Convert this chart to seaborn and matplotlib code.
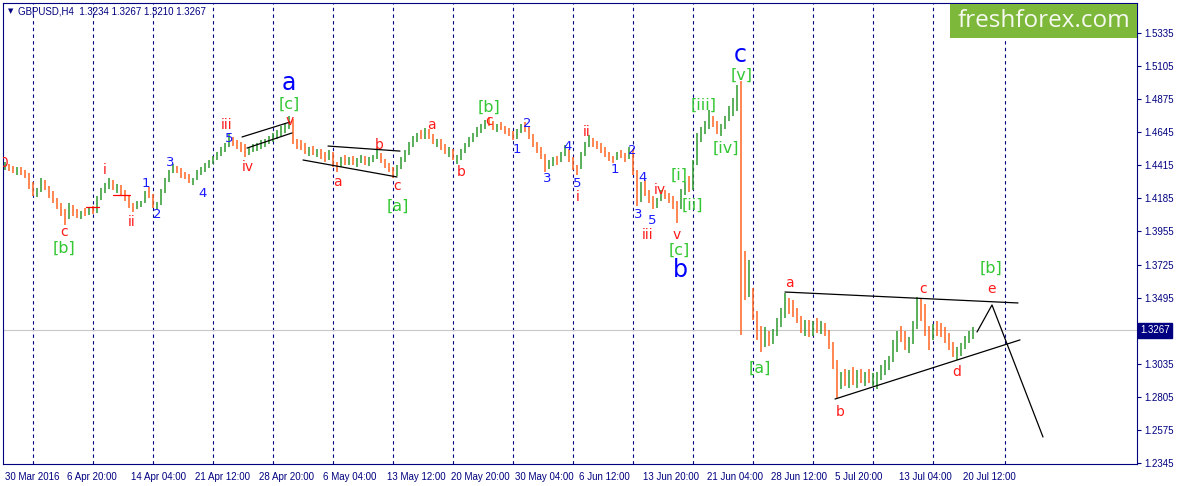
import numpy as np
import matplotlib.pyplot as plt
import seaborn as sns
from matplotlib.collections import LineCollection
from matplotlib.patches import Rectangle

# GBPUSD H4, 30 Mar - 21 Jul 2016. One drawn bar = two H4 bars, x counted in H4 bars.
first_open = 1.4400
high = [
    1.4440, 1.4425, 1.4410, 1.4400, 1.4405, 1.4380, 1.4360, 1.4300, 1.4260, 1.4325,
    1.4310, 1.4270, 1.4235, 1.4185, 1.4150, 1.4110, 1.4150, 1.4140, 1.4110, 1.4100,
    1.4120, 1.4120, 1.4130, 1.4200, 1.4260, 1.4290, 1.4325, 1.4310, 1.4285, 1.4280,
    1.4245, 1.4200, 1.4150, 1.4165, 1.4170, 1.4235, 1.4265, 1.4215, 1.4160, 1.4250,
    1.4330, 1.4385, 1.4425, 1.4410, 1.4395, 1.4370, 1.4355, 1.4330, 1.4380, 1.4400,
    1.4430, 1.4450, 1.4480, 1.4510, 1.4540, 1.4570, 1.4640, 1.4615, 1.4590, 1.4580,
    1.4560, 1.4545, 1.4560, 1.4570, 1.4590, 1.4600, 1.4620, 1.4640, 1.4660, 1.4685,
    1.4710, 1.4760, 1.4735, 1.4600, 1.4590, 1.4570, 1.4545, 1.4550, 1.4530, 1.4525,
    1.4505, 1.4520, 1.4510, 1.4440, 1.4470, 1.4485, 1.4470, 1.4480, 1.4465, 1.4490,
    1.4480, 1.4470, 1.4490, 1.4535, 1.4500, 1.4460, 1.4430, 1.4400, 1.4420, 1.4470,
    1.4520, 1.4580, 1.4620, 1.4640, 1.4660, 1.4675, 1.4665, 1.4630, 1.4600, 1.4595,
    1.4560, 1.4540, 1.4530, 1.4490, 1.4530, 1.4570, 1.4610, 1.4640, 1.4680, 1.4700,
    1.4730, 1.4750, 1.4725, 1.4705, 1.4715, 1.4690, 1.4675, 1.4655, 1.4665, 1.4700,
    1.4715, 1.4680, 1.4630, 1.4575, 1.4540, 1.4495, 1.4450, 1.4470, 1.4480, 1.4505,
    1.4555, 1.4530, 1.4470, 1.4420, 1.4510, 1.4580, 1.4625, 1.4605, 1.4585, 1.4570,
    1.4540, 1.4510, 1.4480, 1.4505, 1.4520, 1.4500, 1.4545, 1.4530, 1.4380, 1.4300,
    1.4310, 1.4240, 1.4200, 1.4190, 1.4240, 1.4245, 1.4225, 1.4200, 1.4170, 1.4250,
    1.4300, 1.4340, 1.4450, 1.4640, 1.4680, 1.4720, 1.4800, 1.4760, 1.4720, 1.4700,
    1.4760, 1.4830, 1.4880, 1.4970, 1.5000, 1.3820, 1.3760, 1.3560, 1.3400, 1.3300,
    1.3290, 1.3260, 1.3280, 1.3350, 1.3420, 1.3530, 1.3490, 1.3480, 1.3420, 1.3370,
    1.3340, 1.3340, 1.3330, 1.3350, 1.3330, 1.3320, 1.3270, 1.3190, 1.3060, 1.2980,
    1.3000, 1.2990, 1.3010, 1.2990, 1.3000, 1.2980, 1.3000, 1.2970, 1.2980, 1.3030,
    1.3060, 1.3090, 1.3200, 1.3260, 1.3300, 1.3260, 1.3220, 1.3330, 1.3500, 1.3490,
    1.3450, 1.3300, 1.3310, 1.3330, 1.3320, 1.3290, 1.3250, 1.3190, 1.3150, 1.3180,
    1.3230, 1.3260, 1.3290,
]
low = [
    1.4385, 1.4375, 1.4360, 1.4345, 1.4350, 1.4330, 1.4250, 1.4200, 1.4195, 1.4230,
    1.4240, 1.4190, 1.4150, 1.4110, 1.4060, 1.4000, 1.4040, 1.4060, 1.4050, 1.4045,
    1.4060, 1.4070, 1.4080, 1.4085, 1.4175, 1.4220, 1.4250, 1.4240, 1.4220, 1.4210,
    1.4170, 1.4120, 1.4090, 1.4110, 1.4125, 1.4150, 1.4190, 1.4120, 1.4110, 1.4140,
    1.4225, 1.4300, 1.4360, 1.4360, 1.4330, 1.4320, 1.4290, 1.4280, 1.4310, 1.4345,
    1.4370, 1.4395, 1.4425, 1.4450, 1.4480, 1.4505, 1.4545, 1.4550, 1.4530, 1.4510,
    1.4475, 1.4490, 1.4505, 1.4515, 1.4530, 1.4545, 1.4560, 1.4575, 1.4600, 1.4620,
    1.4640, 1.4670, 1.4560, 1.4530, 1.4520, 1.4495, 1.4480, 1.4490, 1.4470, 1.4460,
    1.4440, 1.4450, 1.4400, 1.4370, 1.4400, 1.4420, 1.4415, 1.4420, 1.4405, 1.4430,
    1.4420, 1.4410, 1.4435, 1.4460, 1.4430, 1.4395, 1.4370, 1.4330, 1.4340, 1.4390,
    1.4440, 1.4490, 1.4545, 1.4580, 1.4600, 1.4600, 1.4595, 1.4560, 1.4540, 1.4520,
    1.4495, 1.4475, 1.4450, 1.4425, 1.4455, 1.4500, 1.4540, 1.4580, 1.4610, 1.4640,
    1.4670, 1.4690, 1.4660, 1.4650, 1.4660, 1.4630, 1.4620, 1.4590, 1.4600, 1.4640,
    1.4650, 1.4600, 1.4545, 1.4500, 1.4460, 1.4370, 1.4390, 1.4410, 1.4420, 1.4435,
    1.4480, 1.4440, 1.4380, 1.4345, 1.4390, 1.4480, 1.4545, 1.4540, 1.4525, 1.4500,
    1.4470, 1.4445, 1.4430, 1.4450, 1.4465, 1.4440, 1.4460, 1.4350, 1.4130, 1.4160,
    1.4200, 1.4150, 1.4110, 1.4120, 1.4170, 1.4180, 1.4150, 1.4110, 1.4015, 1.4110,
    1.4210, 1.4230, 1.4240, 1.4420, 1.4580, 1.4630, 1.4670, 1.4680, 1.4630, 1.4620,
    1.4670, 1.4720, 1.4760, 1.4790, 1.3235, 1.3480, 1.3500, 1.3340, 1.3200, 1.3120,
    1.3150, 1.3160, 1.3170, 1.3230, 1.3290, 1.3350, 1.3380, 1.3360, 1.3320, 1.3250,
    1.3230, 1.3220, 1.3230, 1.3250, 1.3240, 1.3230, 1.3140, 1.3000, 1.2800, 1.2860,
    1.2880, 1.2870, 1.2890, 1.2870, 1.2900, 1.2880, 1.2900, 1.2880, 1.2860, 1.2920,
    1.2960, 1.2990, 1.3050, 1.3120, 1.3190, 1.3130, 1.3110, 1.3170, 1.3280, 1.3330,
    1.3230, 1.3130, 1.3200, 1.3230, 1.3220, 1.3180, 1.3130, 1.3080, 1.3060, 1.3090,
    1.3140, 1.3180, 1.3210,
]
close = [
    1.4405, 1.4390, 1.4370, 1.4385, 1.4360, 1.4345, 1.4270, 1.4225, 1.4240, 1.4300,
    1.4255, 1.4205, 1.4165, 1.4125, 1.4085, 1.4050, 1.4120, 1.4075, 1.4065, 1.4085,
    1.4070, 1.4105, 1.4095, 1.4185, 1.4245, 1.4270, 1.4300, 1.4255, 1.4265, 1.4225,
    1.4185, 1.4135, 1.4120, 1.4140, 1.4160, 1.4220, 1.4205, 1.4140, 1.4150, 1.4235,
    1.4315, 1.4370, 1.4400, 1.4380, 1.4345, 1.4335, 1.4305, 1.4320, 1.4365, 1.4385,
    1.4415, 1.4440, 1.4465, 1.4495, 1.4525, 1.4555, 1.4600, 1.4570, 1.4555, 1.4530,
    1.4500, 1.4530, 1.4540, 1.4555, 1.4575, 1.4585, 1.4600, 1.4625, 1.4640, 1.4665,
    1.4690, 1.4730, 1.4580, 1.4560, 1.4545, 1.4510, 1.4525, 1.4500, 1.4510, 1.4480,
    1.4465, 1.4500, 1.4420, 1.4410, 1.4450, 1.4435, 1.4455, 1.4440, 1.4450, 1.4470,
    1.4440, 1.4455, 1.4475, 1.4485, 1.4445, 1.4410, 1.4385, 1.4360, 1.4400, 1.4455,
    1.4505, 1.4560, 1.4600, 1.4625, 1.4620, 1.4650, 1.4610, 1.4575, 1.4580, 1.4535,
    1.4510, 1.4520, 1.4465, 1.4470, 1.4515, 1.4555, 1.4595, 1.4625, 1.4660, 1.4685,
    1.4715, 1.4710, 1.4680, 1.4690, 1.4670, 1.4650, 1.4640, 1.4610, 1.4650, 1.4680,
    1.4665, 1.4615, 1.4560, 1.4520, 1.4475, 1.4410, 1.4430, 1.4450, 1.4440, 1.4490,
    1.4520, 1.4455, 1.4400, 1.4395, 1.4495, 1.4560, 1.4595, 1.4560, 1.4545, 1.4515,
    1.4490, 1.4465, 1.4460, 1.4490, 1.4480, 1.4470, 1.4530, 1.4370, 1.4180, 1.4270,
    1.4225, 1.4170, 1.4140, 1.4180, 1.4220, 1.4200, 1.4170, 1.4140, 1.4120, 1.4230,
    1.4280, 1.4260, 1.4430, 1.4600, 1.4650, 1.4690, 1.4740, 1.4700, 1.4660, 1.4680,
    1.4740, 1.4800, 1.4800, 1.4920, 1.3600, 1.3560, 1.3560, 1.3370, 1.3240, 1.3200,
    1.3250, 1.3190, 1.3250, 1.3320, 1.3380, 1.3450, 1.3420, 1.3400, 1.3350, 1.3290,
    1.3310, 1.3260, 1.3310, 1.3280, 1.3300, 1.3260, 1.3170, 1.3040, 1.2900, 1.2940,
    1.2910, 1.2960, 1.2920, 1.2950, 1.2930, 1.2960, 1.2920, 1.2940, 1.2950, 1.3000,
    1.3030, 1.3070, 1.3170, 1.3230, 1.3220, 1.3160, 1.3190, 1.3300, 1.3420, 1.3360,
    1.3260, 1.3200, 1.3280, 1.3270, 1.3250, 1.3210, 1.3150, 1.3100, 1.3110, 1.3160,
    1.3200, 1.3240, 1.3267,
]
last_price = 1.3267

tick_bars = [0, 31, 63, 95, 127, 159, 191, 223, 255, 287, 319, 351, 383, 415, 447, 479]
tick_labels = ['30 Mar 2016', '6 Apr 20:00', '14 Apr 04:00', '21 Apr 12:00', '28 Apr 20:00',
               '6 May 04:00', '13 May 12:00', '20 May 20:00', '30 May 04:00', '6 Jun 12:00',
               '13 Jun 20:00', '21 Jun 04:00', '28 Jun 12:00', '5 Jul 20:00', '13 Jul 04:00',
               '20 Jul 12:00']
week_bars = [14, 44, 74, 104, 134, 164, 194, 224, 254, 284, 314, 344, 374, 404, 434, 464, 500]
price_ticks = [1.2345, 1.2575, 1.2805, 1.3035, 1.3495, 1.3725, 1.3955, 1.4185,
               1.4415, 1.4645, 1.4875, 1.5105, 1.5335]

# trend lines drawn on the chart (bar, price)
channel_up = ([118.5, 142.5], [1.4612, 1.4716])
channel_dn = ([121, 143.5], [1.4535, 1.4640])
flag_up = ([161.5, 197.5], [1.4549, 1.4514])
flag_dn = ([149, 196], [1.4452, 1.4334])
tri_up = ([390, 506.5], [1.3534, 1.3458])
tri_dn = ([415, 507.5], [1.2790, 1.3201])
forecast = ([486, 493.5, 519], [1.3256, 1.3444, 1.2526])
red_marks = [([40.5, 47], 1.4125), ([54, 62.5], 1.4209)]

navy = '#000080'
red = '#FF1A1A'
blue = '#1A1AFF'
green = '#33C733'
up_col = '#2E9A2E'
down_col = '#FF6420'

# wave labels: text, bar, price, colour, size
waves = [
    ('0', -1, 1.4431, red, 10), ('c', 29.5, 1.3951, red, 10), ('i', 50, 1.4382, red, 10),
    ('ii', 63.5, 1.4021, red, 10), ('iii', 111, 1.4695, red, 10), ('iv', 121.5, 1.4403, red, 10),
    ('v', 142.5, 1.4723, red, 10), ('a', 166, 1.4299, red, 10), ('b', 187, 1.4556, red, 10),
    ('c', 196, 1.4271, red, 10), ('a', 213, 1.4695, red, 10), ('b', 228, 1.4369, red, 10),
    ('c', 242, 1.4723, red, 10), ('i', 286.5, 1.4195, red, 10), ('ii', 291, 1.4647, red, 10),
    ('iii', 321.5, 1.3931, red, 10), ('iv', 327.5, 1.4243, red, 10), ('v', 336, 1.3931, red, 10),
    ('a', 392, 1.3597, red, 10), ('b', 417.5, 1.2700, red, 10), ('c', 459, 1.3555, red, 10),
    ('d', 476, 1.2978, red, 10), ('e', 493, 1.3555, red, 10),
    ('5', 112, 1.4600, blue, 9.5), ('1', 70.5, 1.4292, blue, 9.5), ('2', 76, 1.4076, blue, 9.5),
    ('3', 82.5, 1.4438, blue, 9.5), ('4', 99, 1.4222, blue, 9.5), ('1', 256, 1.4528, blue, 9.5),
    ('2', 261, 1.4709, blue, 9.5), ('3', 271, 1.4320, blue, 9.5), ('4', 281.5, 1.4549, blue, 9.5),
    ('5', 286, 1.4292, blue, 9.5), ('1', 305, 1.4389, blue, 9.5), ('2', 313.5, 1.4515, blue, 9.5),
    ('3', 316.5, 1.4076, blue, 9.5), ('4', 319, 1.4327, blue, 9.5), ('5', 323.5, 1.4028, blue, 9.5),
    ('a', 142, 1.4990, '#0000FF', 17), ('b', 337.5, 1.3687, '#0000FF', 17),
    ('c', 367.5, 1.5182, '#0000FF', 17),
    ('[b]', 29.5, 1.3840, green, 11.5), ('[c]', 142, 1.4841, green, 11.5),
    ('[a]', 196.5, 1.4132, green, 11.5), ('[b]', 242, 1.4820, green, 11.5),
    ('[i]', 337, 1.4348, green, 11.5), ('[ii]', 343.5, 1.4139, green, 11.5),
    ('[c]', 337, 1.3826, green, 11.5), ('[iii]', 349.5, 1.4834, green, 11.5),
    ('[iv]', 360.5, 1.4535, green, 11.5), ('[v]', 368.5, 1.5043, green, 11.5),
    ('[a]', 377.5, 1.3006, green, 11.5), ('[b]', 493, 1.3701, green, 11.5),
]

sns.set_style('white')
plt.rcParams['font.family'] = ['Liberation Sans', 'DejaVu Sans']

fig = plt.figure(figsize=(11.77, 4.86), dpi=100)
ax = fig.add_axes([3 / 1177, 22 / 486, 1134 / 1177, 461 / 486])
ax.set_xlim(-1, 566)
ax.set_ylim(1.23383, 1.55436)

for w in week_bars:
    ax.axvline(w, color=navy, lw=0.8, ls=(0, (3, 3)), zorder=0)
ax.axhline(last_price, color='#C8C8C8', lw=0.8, zorder=0)

# OHLC bars (at this zoom MT4 shows them as plain high-low sticks)
close = np.array(close)
open_ = np.r_[first_open, close[:-1]]
high = np.maximum(np.array(high), np.maximum(open_, close))
low = np.minimum(np.array(low), np.minimum(open_, close))
xb = np.arange(len(close)) * 2
segs, cols = [], []
for x, o, h, l, c in zip(xb, open_, high, low, close):
    segs.append([(x, l), (x, h)])
    cols.append(up_col if c >= o else down_col)
ax.add_collection(LineCollection(segs, colors=cols, linewidths=1.1, zorder=2))

# trend lines
for xs, ys in [channel_up, channel_dn, flag_up, flag_dn, tri_up, tri_dn, forecast]:
    sns.lineplot(x=xs, y=ys, sort=False, color='black', lw=0.9, ax=ax, zorder=3)
for xs, y in red_marks:
    ax.plot(xs, [y, y], color='red', lw=0.9, zorder=3)

for txt, b, p, col, size in waves:
    ax.text(b, p, txt, color=col, fontsize=size, ha='center', va='center',
            family='DejaVu Sans', zorder=4, clip_on=True)

# axes styling
for s in ax.spines.values():
    s.set_color(navy)
    s.set_linewidth(0.8)
ax.yaxis.tick_right()
ax.set_yticks(price_ticks)
ax.set_yticklabels([f'{p:.4f}' for p in price_ticks])
ax.set_xticks(tick_bars)
ax.set_xticklabels(tick_labels, ha='left')
ax.tick_params(axis='both', direction='out', length=3, width=0.8, color=navy,
               labelcolor=navy, labelsize=7, pad=2)
ax.tick_params(axis='x', pad=3)
ax.set_xlabel('')
ax.set_ylabel('')

ax.text(1.003, last_price, '1.3267', transform=ax.get_yaxis_transform(), ha='left',
        va='center', color='white', fontsize=7, clip_on=False,
        bbox=dict(boxstyle='square,pad=0.25', fc=navy, ec=navy))

# header and logo
fig.text(8 / 1177, 1 - 11 / 486, '\u25bc', fontsize=5, color=navy, va='center',
         family='DejaVu Sans')
fig.text(18 / 1177, 1 - 11 / 486, 'GBPUSD,H4  1.3234 1.3267 1.3210 1.3267', fontsize=7,
         color=navy, va='center')
fig.add_artist(Rectangle((950 / 1177, 1 - 38 / 486), 187 / 1177, 34 / 486,
                         transform=fig.transFigure, fc='#7DB83A', ec='none', zorder=5))
fig.text(1043.5 / 1177, 1 - 21 / 486, 'freshforex.com', fontsize=17.5, color='#F6F9F0',
         ha='center', va='center', family='Open Sans', zorder=6)

fig.savefig('out.png', dpi=100)
